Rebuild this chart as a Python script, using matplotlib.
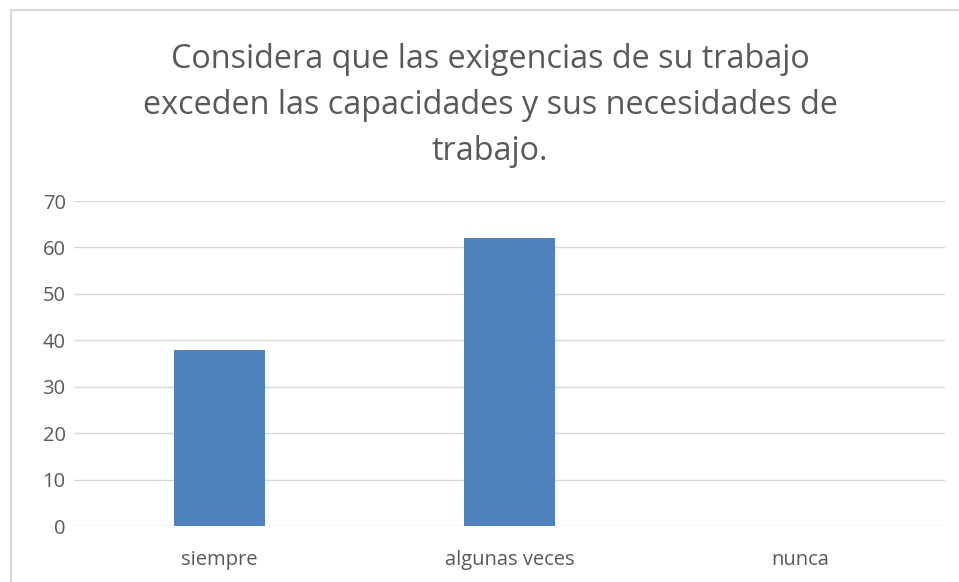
import matplotlib
matplotlib.use("Agg")
import matplotlib.pyplot as plt
from matplotlib.lines import Line2D

categories = ["siempre", "algunas veces", "nunca"]
values = [38, 62, 0]
yticks = [0, 10, 20, 30, 40, 50, 60, 70]
title = "Considera que las exigencias de su trabajo\nexceden las capacidades y sus necesidades de\ntrabajo."

plt.rcParams['font.family'] = ['Open Sans', 'DejaVu Sans']
W, H = 959, 582
fig = plt.figure(figsize=(W/100, H/100), dpi=100)
ax = fig.add_axes([74/W, 1-526/H, (945-74)/W, (526-201)/H])

x = list(range(len(categories)))
ax.bar(x, values, width=0.314, color="#4F81BD", zorder=3)
ax.set_xlim(-0.5, 2.5)
ax.set_ylim(0, 70)
ax.set_yticks(yticks)
ax.set_xticks(x)
ax.set_xticklabels(categories)
ax.grid(axis='y', color="#D9D9D9", linewidth=1, zorder=0)
for s in ax.spines.values():
    s.set_visible(False)
ax.tick_params(axis='both', length=0, colors="#595959", labelsize=14.5)
ax.tick_params(axis='y', pad=6)
ax.tick_params(axis='x', pad=17)

fig.text(490/W, 1-105/H, title, ha='center', va='center', fontsize=23.3,
         color="#595959", linespacing=1.52)

fig.add_artist(Line2D([11/W, 1], [1-10/H, 1-10/H], color="#D9D9D9", linewidth=1.5, transform=fig.transFigure))
fig.add_artist(Line2D([11/W, 11/W], [0, 1-10/H], color="#D9D9D9", linewidth=1.5, transform=fig.transFigure))

fig.savefig("out.png", dpi=100)
